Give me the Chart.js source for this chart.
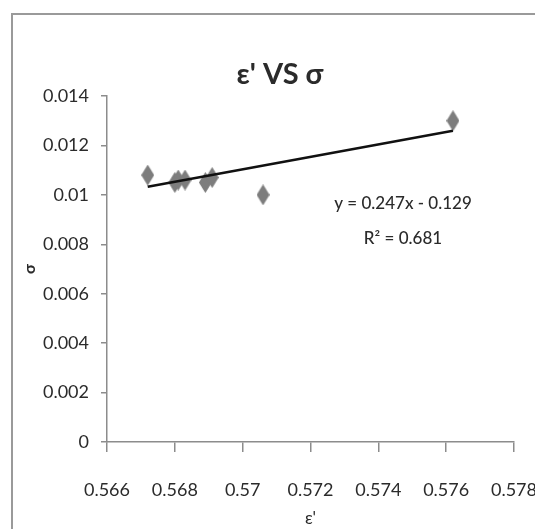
<!DOCTYPE html>
<html>
<head>
<meta charset="utf-8">
<title>ε' VS σ</title>
<script src="https://cdn.jsdelivr.net/npm/chart.js@4.4.0/dist/chart.umd.min.js"></script>
<style>
    body { margin: 0; background: #fff; }
    #caixa { position: absolute; left: 0; top: 0; width: 535px; height: 529px; }
</style>
</head>
<body>
<div id="caixa"><canvas id="graficoSigma" width="535" height="529"></canvas></div>
<script>
// dados
const epsilon = [0.5672, 0.5680, 0.5681, 0.5683, 0.5689, 0.5691, 0.5706, 0.5762]
const sigma = [0.0108, 0.0105, 0.0106, 0.0106, 0.0105, 0.0107, 0.0100, 0.0130]

// linha de tendência (extremos)
const tendenciaX = [0.5672, 0.5762]
const tendenciaY = [0.01033, 0.01259]

const ticksX = [0.566, 0.568, 0.570, 0.572, 0.574, 0.576, 0.578]
const ticksY = [0, 0.002, 0.004, 0.006, 0.008, 0.010, 0.012, 0.014]

const equacao = ["y = 0.247x - 0.129", "R² = 0.681"]
const titulo = "ε' VS σ"

var fonte = "Lato, 'Open Sans', sans-serif"
var corTexto = '#2b2b2b'
var corEixo = '#8c8c8c'

// losango mais alto que largo, como no excel
function criarLosango() {
    var c = document.createElement('canvas')
    c.width = 13
    c.height = 21
    var ctx = c.getContext('2d')
    ctx.beginPath()
    ctx.moveTo(6.5, 0)
    ctx.lineTo(13, 10.5)
    ctx.lineTo(6.5, 21)
    ctx.lineTo(0, 10.5)
    ctx.closePath()
    ctx.fillStyle = '#7d7d7d'
    ctx.fill()
    return c
}

const pontos = epsilon.map((x, i) => ({ x: x, y: sigma[i] }))
const linha = tendenciaX.map((x, i) => ({ x: x, y: tendenciaY[i] }))

// desenha título, equação e a moldura do gráfico
const extras = {
    id: 'extras',
    beforeDraw(chart) {
        const ctx = chart.ctx
        ctx.save()
        ctx.strokeStyle = '#9a9a9a'
        ctx.lineWidth = 2
        ctx.beginPath()
        ctx.moveTo(12, 529)
        ctx.lineTo(12, 14)
        ctx.lineTo(535, 14)
        ctx.stroke()
        ctx.restore()
    },
    afterDraw(chart) {
        const ctx = chart.ctx
        ctx.save()
        ctx.fillStyle = corTexto
        ctx.textAlign = 'center'
        ctx.textBaseline = 'middle'
        ctx.font = "bold 29px " + fonte
        ctx.fillText(titulo, 280, 75)

        ctx.font = "500 17px " + fonte
        ctx.fillText(equacao[0], 403, 204)
        ctx.fillText(equacao[1], 403, 239)
        ctx.restore()
    }
}

const config = {
    type: 'scatter',
    data: {
        datasets: [
            {
                label: 'σ',
                data: pontos,
                pointStyle: criarLosango(),
                pointRadius: 10,
                pointHoverRadius: 10,
                order: 2
            },
            {
                label: 'tendência',
                data: linha,
                showLine: true,
                borderColor: '#111',
                borderWidth: 2.5,
                pointRadius: 0,
                fill: false,
                order: 1
            }
        ]
    },
    options: {
        responsive: false,
        animation: false,
        layout: { padding: { top: 96, right: 0, left: 0, bottom: 0 } },
        plugins: {
            legend: { display: false },
            tooltip: { enabled: false },
            title: { display: false }
        },
        scales: {
            x: {
                type: 'linear',
                min: 0.566,
                max: 0.578,
                afterBuildTicks: (scale) => { scale.ticks = ticksX.map(v => ({ value: v })) },
                afterFit: (scale) => {
                    scale.height = 87
                    // o padding dos ticks não deve empurrar a borda direita
                    scale.paddingRight = 21
                    scale.paddingLeft = 0
                },
                border: { display: true, color: corEixo, width: 1.5 },
                grid: { drawOnChartArea: false, drawTicks: true, tickLength: 10, color: corEixo, lineWidth: 1.5 },
                ticks: {
                    padding: 27,
                    color: corTexto,
                    font: { family: fonte, size: 18 },
                    maxRotation: 0,
                    callback: (v) => String(parseFloat(v.toFixed(3)))
                },
                title: {
                    display: true,
                    text: "ε'",
                    color: corTexto,
                    font: { family: fonte, size: 17 },
                    padding: { top: 0, bottom: 0 }
                }
            },
            y: {
                type: 'linear',
                min: 0,
                max: 0.014,
                afterBuildTicks: (scale) => { scale.ticks = ticksY.map(v => ({ value: v })) },
                afterFit: (scale) => { scale.width = 107 },
                border: { display: true, color: corEixo, width: 1.5 },
                grid: { drawOnChartArea: false, drawTicks: true, tickLength: 6, color: corEixo, lineWidth: 1.5 },
                ticks: {
                    padding: 12,
                    color: corTexto,
                    font: { family: fonte, size: 18 },
                    callback: (v) => String(parseFloat(v.toFixed(3)))
                },
                title: {
                    display: true,
                    text: 'σ',
                    color: corTexto,
                    font: { family: fonte, size: 16, weight: 'bold' },
                    padding: { top: 20, bottom: 0 }
                }
            }
        }
    },
    plugins: [extras]
}

let meuGrafico = new Chart(document.getElementById('graficoSigma'), config)
</script>
</body>
</html>
